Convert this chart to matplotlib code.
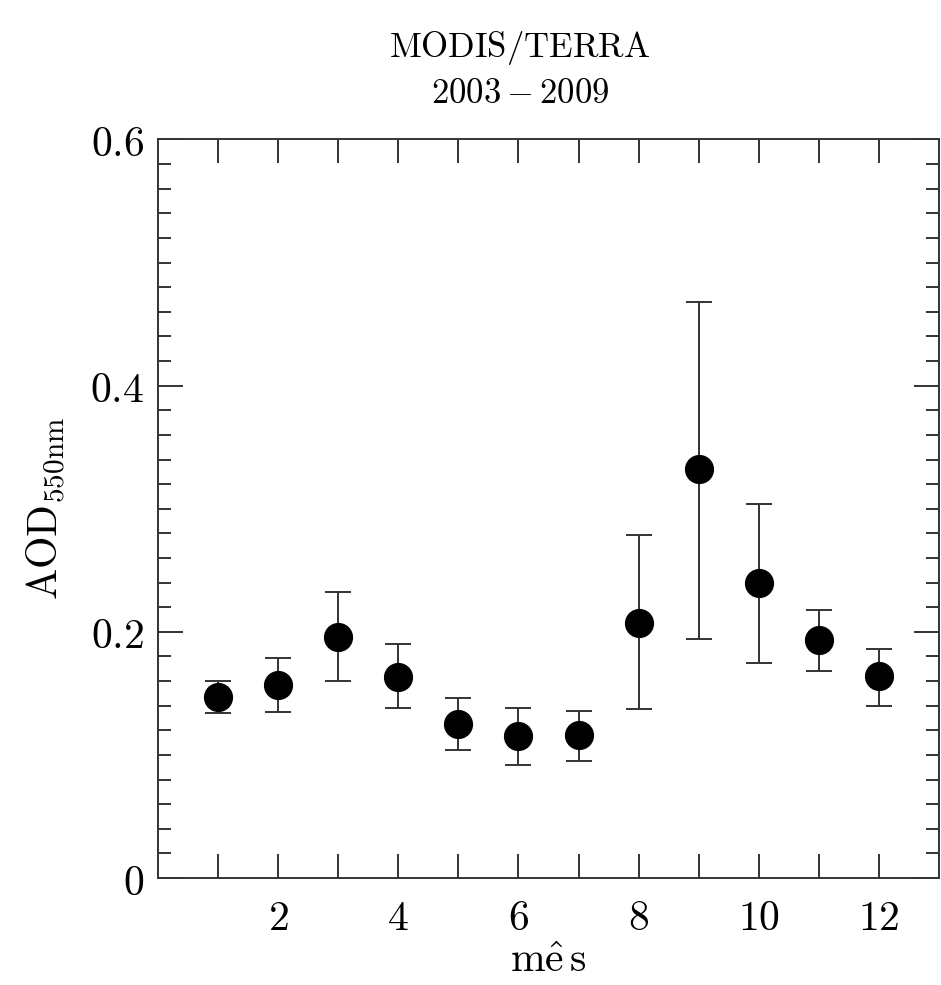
import numpy as np
import matplotlib
matplotlib.use("Agg")
import matplotlib.pyplot as plt
from matplotlib.ticker import MultipleLocator, FixedLocator

plt.rcParams["mathtext.fontset"] = "cm"

# =========================================================
# DATA
# =========================================================

months = [1, 2, 3, 4, 5, 6, 7, 8, 9, 10, 11, 12]

aod = [0.147, 0.157, 0.196, 0.163, 0.125, 0.115, 0.116,
       0.207, 0.332, 0.240, 0.193, 0.164]

aod_upper = [0.160, 0.179, 0.232, 0.190, 0.146, 0.138, 0.136,
             0.279, 0.468, 0.304, 0.218, 0.186]

aod_lower = [0.134, 0.135, 0.160, 0.138, 0.104, 0.092, 0.095,
             0.137, 0.194, 0.175, 0.168, 0.140]

x_tick_labels = ["", "2", "", "4", "", "6", "", "8", "", "10", "", "12"]
y_ticks = [0, 0.2, 0.4, 0.6]
y_tick_labels = ["0", "0.2", "0.4", "0.6"]

# =========================================================
# PLOT
# =========================================================

aod = np.array(aod)
err = np.array([aod - np.array(aod_lower), np.array(aod_upper) - aod])

fig = plt.figure(figsize=(9.41, 9.85), dpi=100)
ax = fig.add_axes([0.1679, 0.1086, 0.83, 0.7498])

ax.errorbar(
    months,
    aod,
    yerr=err,
    fmt="o",
    color="black",
    ecolor="#333333",
    elinewidth=1.4,
    capsize=9.7,
    capthick=1.4,
    markersize=20,
)

ax.set_xlim(0, 13)
ax.set_ylim(0, 0.6)

ax.xaxis.set_major_locator(FixedLocator(months))
ax.set_xticklabels([f"${t}$" if t else "" for t in x_tick_labels])

ax.set_yticks(y_ticks)
ax.set_yticklabels([f"${t}$" for t in y_tick_labels])
ax.yaxis.set_minor_locator(MultipleLocator(0.02))

ax.tick_params(axis="both", which="both", direction="in",
               top=True, right=True, color="#333333", width=1.4)
ax.tick_params(axis="x", which="major", length=17.5, pad=14,
               labelsize=30)
ax.tick_params(axis="y", which="major", length=18, pad=10,
               labelsize=30)
ax.tick_params(axis="y", which="minor", length=9.5)

for sp in ax.spines.values():
    sp.set_color("#333333")
    sp.set_linewidth(1.4)

ax.set_xlabel(r"$\mathrm{m\hat{e}\,s}$", fontsize=30, labelpad=0)
ax.set_ylabel(r"$\mathrm{AOD}_{\mathrm{550nm}}$", fontsize=30, labelpad=16)

fig.text(0.5526, 0.951, r"$\mathrm{MODIS/TERRA}$",
         ha="center", va="center", fontsize=25)
fig.text(0.5526, 0.906, r"$\mathrm{2003-2009}$",
         ha="center", va="center", fontsize=25)

plt.savefig("out.png", dpi=100)
